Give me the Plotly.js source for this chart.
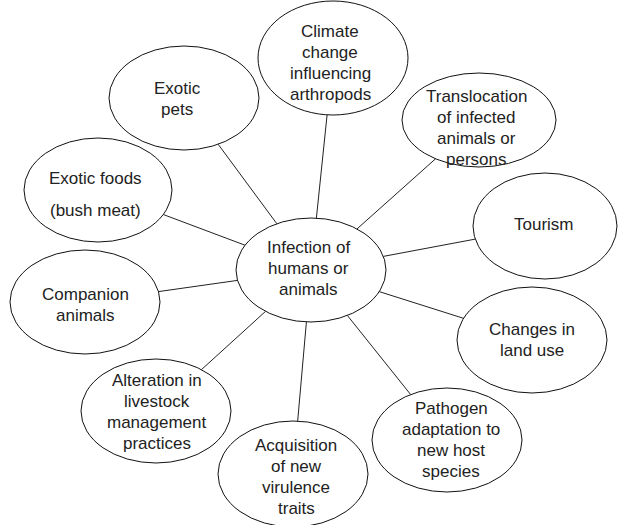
<!DOCTYPE html>
<html>
<head>
<meta charset="utf-8">
<script src="https://cdn.plot.ly/plotly-3.0.1.min.js"></script>
<style>html,body{margin:0;padding:0;background:#fff;}#chart{width:618px;height:525px;}</style>
</head>
<body>
<div id="chart"></div>
<script>
// ---- data: node labels (each entry = lines of text) ----
const centerLabel = ["Infection of", "humans or", "animals"];
const factorLabels = [
  ["Climate", "change", "influencing", "arthropods"],
  ["Exotic", "pets"],
  ["Translocation", "of infected", "animals or", "persons"],
  ["Exotic foods", "(bush meat)"],
  ["Tourism"],
  ["Companion", "animals"],
  ["Changes in", "land use"],
  ["Alteration in", "livestock", "management", "practices"],
  ["Pathogen", "adaptation to", "new host", "species"],
  ["Acquisition", "of new", "virulence", "traits"]
];

// ---- layout (positions in the diagram's pixel space) ----
const centerPos = {cx: 311, cy: 270, rx: 75, ry: 52, tx: 308, ty: 268};
const factorPos = [
  {cx: 333, cy: 58,  rx: 75, ry: 57, tx: 330, ty: 63},
  {cx: 184, cy: 98,  rx: 75, ry: 52, tx: 177, ty: 99},
  {cx: 479, cy: 120, rx: 77, ry: 47, tx: 476, ty: 128},
  {cx: 98,  cy: 190, rx: 74, ry: 52, tx: 95,  ty: 194, gap: 32},
  {cx: 545, cy: 226, rx: 72, ry: 53, tx: 544, ty: 224},
  {cx: 85,  cy: 302, rx: 75, ry: 52, tx: 85,  ty: 305},
  {cx: 532, cy: 340, rx: 75, ry: 53, tx: 532, ty: 340},
  {cx: 156, cy: 411, rx: 75, ry: 52, tx: 157, ty: 412},
  {cx: 447, cy: 440, rx: 75, ry: 52, tx: 451, ty: 440},
  {cx: 293, cy: 474, rx: 75, ry: 53, tx: 296, ty: 477}
];
const FONT = {family: "Liberation Sans, Arial, sans-serif", size: 17, color: "#222"};
const LINE_GAP = 21;

function edgePoint(p, tx, ty) {
  const dx = tx - p.cx, dy = ty - p.cy;
  const t = 1 / Math.sqrt((dx*dx)/(p.rx*p.rx) + (dy*dy)/(p.ry*p.ry));
  return [p.cx + dx*t, p.cy + dy*t];
}

const shapes = [];
const annotations = [];
const traces = [];

function addNode(p, lines) {
  shapes.push({type: "circle", xref: "x", yref: "y",
    x0: p.cx - p.rx, x1: p.cx + p.rx, y0: p.cy - p.ry, y1: p.cy + p.ry,
    line: {color: "#111", width: 1}, fillcolor: "rgba(0,0,0,0)", layer: "above"});
  const gap = p.gap || LINE_GAP;
  const n = lines.length;
  lines.forEach((t, i) => {
    annotations.push({x: p.tx, y: p.ty + (i - (n - 1) / 2) * gap, xref: "x", yref: "y",
      text: t, showarrow: false, font: FONT, xanchor: "center", yanchor: "middle"});
  });
}

factorPos.forEach((p, i) => {
  const a = edgePoint(p, centerPos.cx, centerPos.cy);
  const b = edgePoint(centerPos, p.cx, p.cy);
  traces.push({x: [a[0], b[0]], y: [a[1], b[1]], mode: "lines", type: "scatter",
    line: {color: "#222", width: 1}, hoverinfo: "skip", showlegend: false});
});
addNode(centerPos, centerLabel);
factorPos.forEach((p, i) => addNode(p, factorLabels[i]));

const layout = {
  width: 618, height: 525,
  margin: {l: 0, r: 0, t: 0, b: 0},
  paper_bgcolor: "#fff", plot_bgcolor: "#fff",
  xaxis: {range: [0, 618], visible: false, fixedrange: true},
  yaxis: {range: [525, 0], visible: false, fixedrange: true},
  shapes: shapes, annotations: annotations, showlegend: false
};
Plotly.newPlot("chart", traces, layout, {staticPlot: true});
</script>
</body>
</html>
